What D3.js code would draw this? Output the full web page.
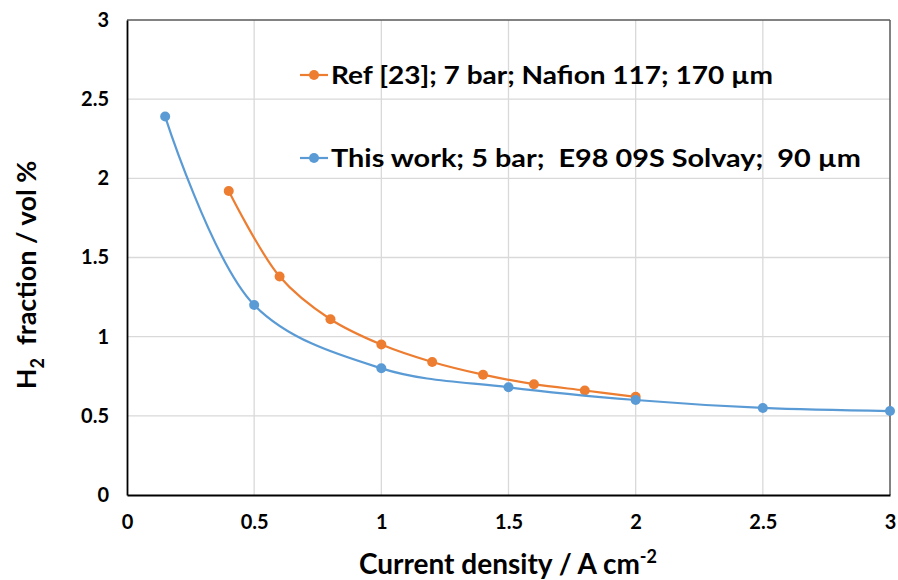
<!DOCTYPE html>
<html><head><meta charset="utf-8">
<script src="https://cdn.jsdelivr.net/npm/d3@7"></script>
<style>body{margin:0;background:#fff;} svg{display:block;font-family:Lato,"Open Sans",sans-serif;} text{white-space:pre;}</style>
</head><body>
<svg id="chart" width="898" height="580"></svg>
<script>
const refX = [0.4, 0.6, 0.8, 1.0, 1.2, 1.4, 1.6, 1.8, 2.0];
const refY = [1.92, 1.38, 1.11, 0.95, 0.84, 0.76, 0.70, 0.66, 0.62];
const workX = [0.15, 0.5, 1.0, 1.5, 2.0, 2.5, 3.0];
const workY = [2.39, 1.20, 0.80, 0.68, 0.60, 0.55, 0.53];
const xTicks = [0, 0.5, 1, 1.5, 2, 2.5, 3];
const yTicks = [0, 0.5, 1, 1.5, 2, 2.5, 3];
const seriesNames = ["Ref [23]; 7 bar; Nafion 117; 170 µm", "This work; 5 bar;  E98 09S Solvay;  90 µm"];
const colors = ["#ED7D31", "#5B9BD5"];

const svg = d3.select("#chart");
const L = 127, R = 890, T = 20, B = 495;
const x = d3.scaleLinear().domain([0, 3]).range([L, R]);
const y = d3.scaleLinear().domain([0, 3]).range([B, T]);

// gridlines
svg.append("g").selectAll("line").data(xTicks.filter(d => d > 0 && d < 3)).join("line")
  .attr("x1", d => x(d)).attr("x2", d => x(d)).attr("y1", T).attr("y2", B)
  .attr("stroke", "#D9D9D9").attr("stroke-width", 1.3);
svg.append("g").selectAll("line").data(yTicks.filter(d => d > 0 && d < 3)).join("line")
  .attr("y1", d => y(d)).attr("y2", d => y(d)).attr("x1", L).attr("x2", R)
  .attr("stroke", "#D9D9D9").attr("stroke-width", 1.3);

// frame
svg.append("line").attr("x1", L).attr("x2", R).attr("y1", T).attr("y2", T).attr("stroke", "#595959").attr("stroke-width", 1.5);
svg.append("line").attr("x1", R).attr("x2", R).attr("y1", T).attr("y2", B).attr("stroke", "#595959").attr("stroke-width", 1.5);

// axes
const xAxis = svg.append("g").attr("transform", `translate(0,${B})`)
  .call(d3.axisBottom(x).tickValues(xTicks).tickFormat(d => d).tickSize(0).tickPadding(20));
const yAxis = svg.append("g").attr("transform", `translate(${L},0)`)
  .call(d3.axisLeft(y).tickValues(yTicks).tickFormat(d => d).tickSize(0).tickPadding(18));
[xAxis, yAxis].forEach(a => {
  a.select(".domain").attr("stroke", "#000").attr("stroke-width", 1.8);
  a.selectAll("text").attr("font-size", 20).attr("font-weight", "bold").attr("fill", "#000")
    .attr("font-family", "Lato, sans-serif");
});
xAxis.selectAll("text").attr("dy", "0.71em");

// lines
const line = d3.line().x(d => x(d[0])).y(d => y(d[1])).curve(d3.curveCatmullRom.alpha(0.5));
const series = [d3.zip(refX, refY), d3.zip(workX, workY)];
series.forEach((s, i) => {
  svg.append("path").datum(s).attr("d", line).attr("fill", "none")
    .attr("stroke", colors[i]).attr("stroke-width", 2.2);
  svg.append("g").selectAll("circle").data(s).join("circle")
    .attr("cx", d => x(d[0])).attr("cy", d => y(d[1])).attr("r", 5).attr("fill", colors[i]);
});

// legend
const legY = [75, 158];
seriesNames.forEach((n, i) => {
  svg.append("line").attr("x1", 300).attr("x2", 328).attr("y1", legY[i]).attr("y2", legY[i])
    .attr("stroke", colors[i]).attr("stroke-width", 2.2);
  svg.append("circle").attr("cx", 314).attr("cy", legY[i]).attr("r", 5).attr("fill", colors[i]);
  svg.append("text").attr("x", 331).attr("y", legY[i] + 9).text(n)
    .attr("font-size", 25).attr("font-weight", "bold").attr("fill", "#000")
    .attr("textLength", i === 0 ? 442 : 530).attr("lengthAdjust", "spacingAndGlyphs");
});

// axis titles
const xt = svg.append("text").attr("x", 508).attr("y", 574).attr("text-anchor", "middle")
  .attr("font-size", 28).attr("font-weight", "bold").attr("fill", "#000");
xt.append("tspan").text("Current density / A cm");
xt.append("tspan").text("-2").attr("font-size", 18).attr("dy", -11);

const yt = svg.append("text").attr("transform", "translate(36,275) rotate(-90)").attr("text-anchor", "middle")
  .attr("font-size", 27).attr("font-weight", "bold").attr("fill", "#000");
yt.append("tspan").text("H");
yt.append("tspan").text("2").attr("font-size", 18).attr("dy", 8);
yt.append("tspan").text("  fraction / vol %").attr("dy", -8);
</script>
</body></html>
